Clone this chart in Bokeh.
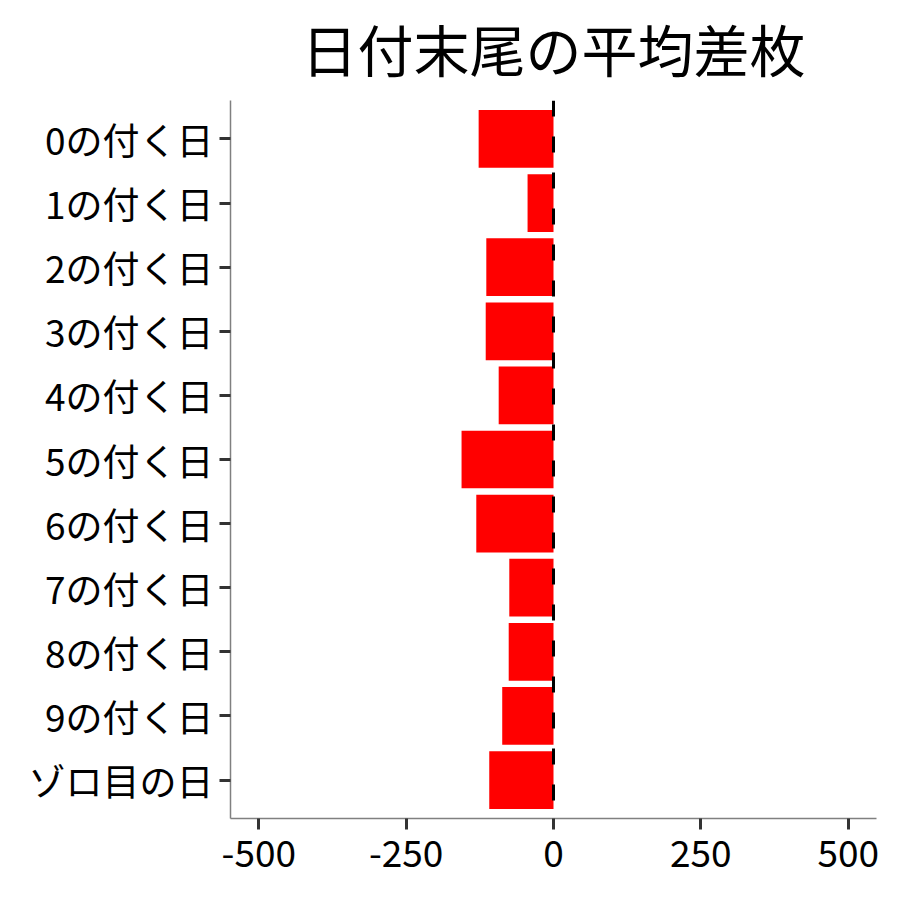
from bokeh.plotting import figure
from bokeh.models import FactorRange, Range1d, FixedTicker, Span
from bokeh.embed import file_html
from bokeh.resources import INLINE

categories = ["0の付く日", "1の付く日", "2の付く日", "3の付く日", "4の付く日",
              "5の付く日", "6の付く日", "7の付く日", "8の付く日", "9の付く日", "ゾロ目の日"]
values = [-127, -44, -114, -115, -93, -156, -131, -75, -76, -87, -109]
tick_values = [-500, -250, 0, 250, 500]
tick_labels = ["-500", "-250", "0", "250", "500"]
title_text = "日付末尾の平均差枚"

FONT = "Noto Sans CJK JP"

y_factors = list(reversed(categories))
y_range = FactorRange(factors=y_factors, range_padding=0.1, range_padding_units="absolute")
p = figure(width=884, height=884, output_backend="svg", toolbar_location=None,
           y_range=y_range, x_range=Range1d(-548, 548),
           min_border_left=230, min_border_right=8, min_border_top=100, min_border_bottom=66)

p.hbar(y=categories, left=0, right=values, height=0.9, fill_color="#FF0000", line_color=None)

p.add_layout(Span(location=0, dimension="height", line_color="black", line_width=3,
                  line_dash="16 20"))

p.title.text = title_text
p.title.align = "center"
p.title.text_font = "'Liberation Sans', 'Noto Sans CJK JP'"
p.title.text_font_size = "56px"
p.title.text_font_style = "normal"
p.title.text_color = "black"
p.title.standoff = 34
p.title.offset = -3

p.xgrid.visible = False
p.ygrid.visible = False
p.outline_line_color = None
p.background_fill_color = "white"
p.border_fill_color = "white"

p.xaxis.ticker = FixedTicker(ticks=tick_values)
p.xaxis.major_label_overrides = {v: s for v, s in zip(tick_values, tick_labels)}
for ax in (p.xaxis[0], p.yaxis[0]):
    ax.axis_line_color = "#808080"
    ax.axis_line_width = 1.5
    ax.major_tick_line_color = "#333333"
    ax.major_tick_line_width = 3
    ax.major_tick_out = 11
    ax.major_tick_in = 0
    ax.minor_tick_line_color = None
    ax.major_label_text_font = FONT
    ax.major_label_text_font_size = "37px"
    ax.major_label_text_color = "black"
p.xaxis.major_label_standoff = 10
p.yaxis.major_label_standoff = 6

open("out.html", "w").write(file_html(p, INLINE))
